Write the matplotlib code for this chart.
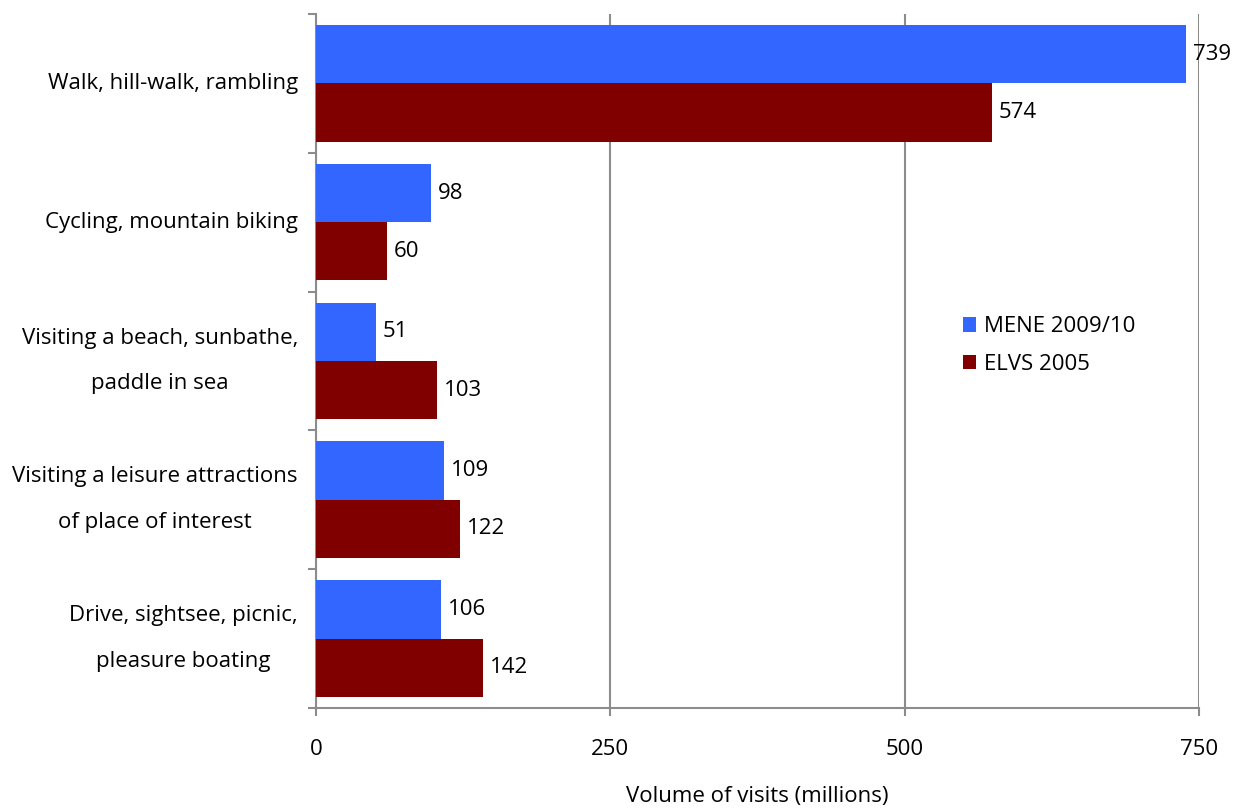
import matplotlib
matplotlib.use('Agg')
import matplotlib.pyplot as plt
import numpy as np

categories = ['Walk, hill-walk, rambling',
              'Cycling, mountain biking',
              'Visiting a beach, sunbathe,\npaddle in sea',
              'Visiting a leisure attractions\nof place of interest',
              'Drive, sightsee, picnic,\npleasure boating']
mene = [739, 98, 51, 109, 106]
elvs = [574, 60, 103, 122, 142]
xticks = [0, 250, 500, 750]

plt.rcParams['font.family'] = ['Open Sans', 'DejaVu Sans']
plt.rcParams['font.size'] = 16

grey = '#8c8c8c'
fig = plt.figure(figsize=(12.41, 8.08), dpi=100)
ax = fig.add_axes([0.2546, 0.1238, 0.7115, 0.8589])

y = np.arange(len(categories))
h = 0.42
b1 = ax.barh(y - h/2, mene, height=h, color='#3366ff', label='MENE 2009/10', zorder=3)
b2 = ax.barh(y + h/2, elvs, height=h, color='#800000', label='ELVS 2005', zorder=3)

for bars, vals in [(b1, mene), (b2, elvs)]:
    for bar, v in zip(bars, vals):
        ax.annotate(str(v), (v, bar.get_y() + bar.get_height()/2),
                    xytext=(5, 0), textcoords='offset points',
                    va='center', ha='left', fontsize=16, zorder=5)

ax.set_xlim(0, 750)
ax.set_ylim(len(categories) - 0.5, -0.5)
ax.set_xticks(xticks)
ax.set_xticklabels([str(t) for t in xticks])
ax.set_yticks(y)
ax.set_yticklabels(categories, multialignment='center', linespacing=2.55, va='center')
ax.set_yticks(np.arange(len(categories) + 1) - 0.5, minor=True)
ax.tick_params(axis='y', which='major', length=0, pad=13)
ax.tick_params(axis='y', which='minor', length=6, width=1.5, color=grey)
ax.tick_params(axis='x', which='major', length=6, width=1.5, color=grey, pad=16)

ax.grid(axis='x', color=grey, linewidth=1.5, zorder=0)
for s in ['top', 'right']:
    ax.spines[s].set_visible(False)
for s in ['left', 'bottom']:
    ax.spines[s].set_color(grey)
    ax.spines[s].set_linewidth(1.5)

ax.set_xlabel('Volume of visits (millions)', fontsize=16, labelpad=19)

ax.legend(loc='center left', bbox_to_anchor=(0.71, 0.522), frameon=False,
          handlelength=0.6, handleheight=0.6, handletextpad=0.35, labelspacing=0.75,
          fontsize=16)

fig.savefig('out.png', dpi=100)
